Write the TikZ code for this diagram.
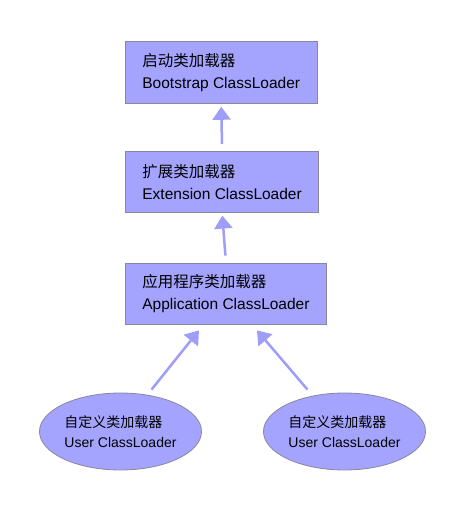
\documentclass[tikz,border=0pt]{standalone}
\usepackage{fontspec}
\setmainfont{Liberation Sans}
\newfontfamily\cjk{Noto Sans CJK SC}
\usetikzlibrary{positioning,shapes.geometric,arrows.meta}
\definecolor{loaderfill}{RGB}{164,164,255}
\definecolor{loaderline}{RGB}{135,135,160}
\definecolor{arrowblue}{RGB}{158,158,248}
\tikzset{>=latex,
  loaderbox/.style={draw=loaderline, fill=loaderfill, line width=0.8pt, minimum height=61pt, inner xsep=17pt, align=left, font=\fontsize{15.5}{22}\selectfont},
  userloader/.style={draw=loaderline, fill=loaderfill, line width=0.8pt, ellipse, minimum width=162pt, minimum height=77pt, inner sep=0pt, align=left, font=\fontsize{14}{19.5}\selectfont},
  uparrow/.style={draw=arrowblue, line width=2.5pt, -{Triangle[length=13pt,width=18pt]}}
}

\begin{document}
\begin{tikzpicture}[x=1pt, y=1pt]
      \useasboundingbox (0,0) rectangle (466,531);
      \node[loaderbox, minimum height=62pt, anchor=north west] (boot) at (125,490) {{\cjk 启动类加载器}\\Bootstrap ClassLoader};
      \node[loaderbox, below=47pt of boot.south west, anchor=north west] (ext) {{\cjk 扩展类加载器}\\Extension ClassLoader};
      \node[loaderbox, below=50pt of ext.south west, anchor=north west] (app) {{\cjk 应用程序类加载器}\\Application ClassLoader};
      \node[userloader] (userA) at (120.5,99.5) {{\cjk 自定义类加载器}\\User ClassLoader};
      \node[userloader] (userB) at (344.5,99.5) {{\cjk 自定义类加载器}\\User ClassLoader};
      \draw[uparrow, shorten <=7pt, shorten >=3pt] (ext.north) to (boot.south);
      \draw[uparrow, shorten <=7pt, shorten >=3pt] (app.north) to (ext.south);
      \draw[uparrow] ([shift={(31pt,3pt)}]userA.north) to ([shift={(-27pt,-6pt)}]app.south);
      \draw[uparrow] ([shift={(-37pt,3pt)}]userB.north) to ([shift={(31pt,-6pt)}]app.south);
    \end{tikzpicture}
\end{document}
